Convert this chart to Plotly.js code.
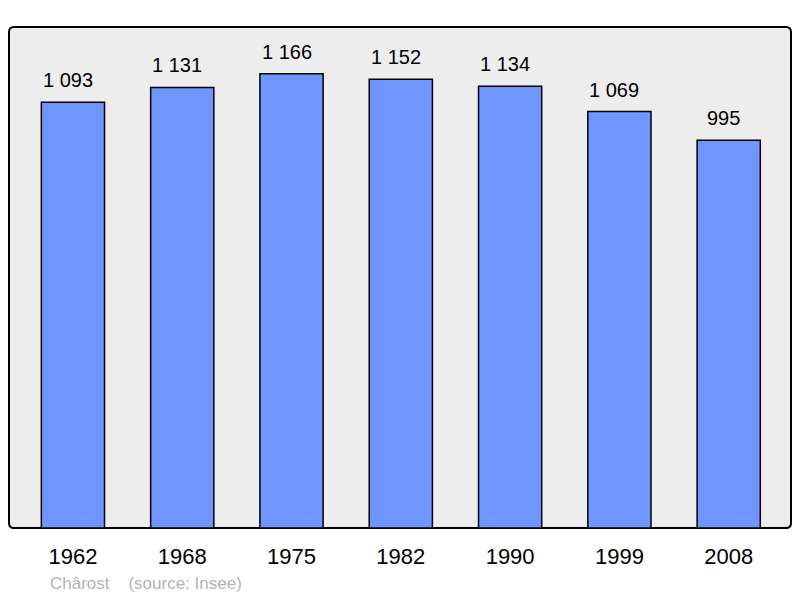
<!DOCTYPE html>
<html><head><meta charset="utf-8">
<script src="https://cdn.plot.ly/plotly-3.0.1.min.js"></script>
<style>body{margin:0;background:#fff}#c{width:800px;height:598px}</style>
</head><body><div id="c"></div>
<script>
const years = ["1962","1968","1975","1982","1990","1999","2008"];
const population = [1093,1131,1166,1152,1134,1069,995];
const valueLabels = ["1 093","1 131","1 166","1 152","1 134","1 069","995"];
const sourceText = "Chârost    (source: Insee)";

const idx = years.map((_,i)=>i);
const W=782, H=501, r=5;
const rx=r/W, ry=r/H;
const path = `M ${rx},0 L ${1-rx},0 Q 1,0 1,${ry} L 1,${1-ry} Q 1,1 ${1-rx},1 L ${rx},1 Q 0,1 0,${1-ry} L 0,${ry} Q 0,0 ${rx},0 Z`;

Plotly.newPlot('c',[{
  type:'bar', x:idx, y:population, width:0.578,
  marker:{color:'#6f96ff', line:{color:'#000', width:1.5}},
  hoverinfo:'none'
}],{
  width:800, height:598,
  margin:{l:9,r:9,t:27,b:70},
  paper_bgcolor:'#fff', plot_bgcolor:'rgba(0,0,0,0)',
  font:{family:'Liberation Sans, Arial, sans-serif', color:'#000'},
  showlegend:false,
  xaxis:{range:[-0.585,6.57], tickvals:idx, ticktext:years, showgrid:false, zeroline:false,
    showline:false, ticks:'', tickfont:{size:22}, ticklabelstandoff:13, fixedrange:true},
  yaxis:{range:[0,1286], visible:false, fixedrange:true},
  shapes:[{type:'path', xref:'paper', yref:'paper', path:path, fillcolor:'#ededed',
    line:{color:'#000', width:2}, layer:'below'}],
  annotations: idx.map(i=>({x:i, y:population[i], text:valueLabels[i], showarrow:false,
      yanchor:'bottom', yshift:9, xshift:-5, font:{size:20, color:'#000'}})).concat([
    {xref:'paper', yref:'paper', x:(48-9)/W, y:-(583-528)/H, xanchor:'left', yanchor:'middle',
     text:sourceText, showarrow:false, font:{size:17, color:'#b4b4b4'}}
  ])
},{staticPlot:true});
</script></body></html>
